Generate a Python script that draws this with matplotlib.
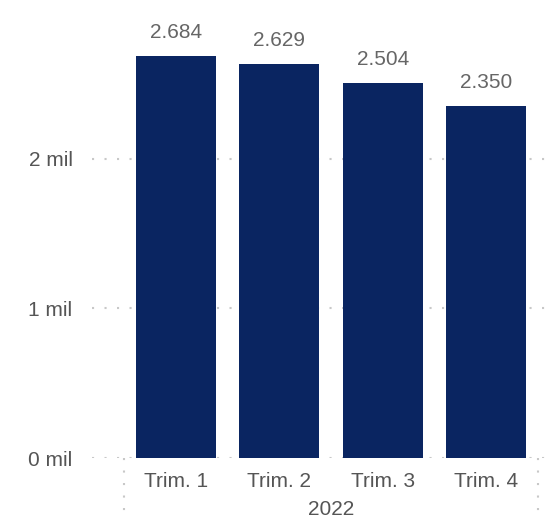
import numpy as np
import matplotlib.pyplot as plt
import matplotlib.transforms as mtransforms

# data
categories = ['Trim. 1', 'Trim. 2', 'Trim. 3', 'Trim. 4']
values = [2684, 2629, 2504, 2350]
value_labels = ['2.684', '2.629', '2.504', '2.350']
year = '2022'
yticks = [0, 1000, 2000]
ytick_labels = ['0 mil', '1 mil', '2 mil']

plt.rcParams['font.family'] = ['Liberation Sans', 'DejaVu Sans']
lab_col = '#666666'
tick_col = '#555555'
grid_col = '#C8C8C8'
bar_col = '#0A2561'

W, H = 559, 519
fig = plt.figure(figsize=(W / 100, H / 100), dpi=100)
ax = fig.add_axes([92 / W, (H - 458) / H, 462 / W, 448 / H])

x = np.arange(len(categories))
ax.bar(x, values, width=0.77, color=bar_col, zorder=2)

for xi, v, lab in zip(x, values, value_labels):
    ax.annotate(lab, (xi, v), xytext=(0, 10), textcoords='offset points',
                ha='center', va='bottom', fontsize=15, color=lab_col)

# category width ~103.5 px, axes spans from 92 to 554 px
cw = 103.5
ax.set_xlim(-0.5 - 32 / cw, 3.5 + 16 / cw)
ax.set_ylim(0, 448 / 149.75 * 1000)

for yt in yticks:
    ax.axhline(yt, color=grid_col, lw=1.5, linestyle=(0, (1, 5)), zorder=1)

ax.set_yticks(yticks)
ax.set_yticklabels(ytick_labels)
ax.set_xticks(x)
ax.set_xticklabels(categories)
ax.tick_params(axis='y', length=0, pad=14, labelsize=15, labelcolor=tick_col)
ax.tick_params(axis='x', length=0, pad=10, labelsize=15, labelcolor=tick_col)
for s in ax.spines.values():
    s.set_visible(False)

# year label and separators below the axis
trans = mtransforms.blended_transform_factory(ax.transData, ax.transAxes)
ax.text(1.5, -0.115, year, transform=trans, ha='center', va='center',
        fontsize=15, color=tick_col)
for xs in [-0.5, 3.5]:
    ax.plot([xs, xs], [0, -0.14], transform=trans, color=grid_col, lw=1.5,
            linestyle=(0, (1, 5)), clip_on=False)

fig.savefig('out.png', dpi=100)
